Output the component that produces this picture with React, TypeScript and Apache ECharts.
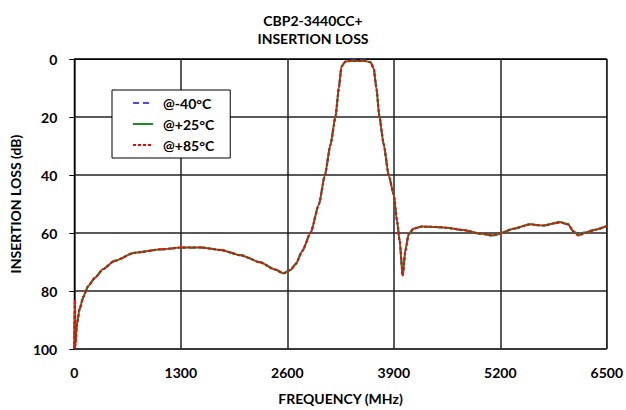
import React, { useEffect, useRef } from "react";
import * as echarts from "echarts";

// Frequency sweep points (MHz)
const freqs = [
  0, 8, 15, 30, 65, 110, 167, 250, 349, 491,
  734, 1059, 1302, 1546, 1789, 2033, 2276, 2438, 2556, 2641,
  2702, 2784, 2885, 2986, 3059, 3128, 3189, 3229, 3262, 3311,
  3372, 3432, 3493, 3550, 3615, 3655, 3688, 3724, 3777, 3838,
  3899, 3940, 3972, 4009, 4041, 4081, 4142, 4244, 4400, 4549,
  4751, 4954, 5116, 5197, 5360, 5563, 5725, 5928, 6029, 6090,
  6151, 6253, 6375, 6500,
];

// Insertion loss (dB) at -40°C
const lossM40 = [
  100, 84, 98, 92, 86.4, 82.2, 78.6, 75.6, 72.6, 69.7,
  66.9, 65.7, 65.1, 65.0, 65.8, 67.6, 70.1, 72.4, 73.8, 72.6,
  70.7, 66.1, 59.8, 50.1, 40.0, 29.4, 19.7, 10.0, 2.5, 0.8,
  0.5, 0.4, 0.4, 0.5, 1.0, 3.1, 10.0, 19.7, 29.4, 40.0,
  46.6, 55.8, 62.7, 74.6, 66.1, 60.4, 58.4, 57.8, 57.9, 58.2,
  59.1, 60.3, 61.0, 60.2, 58.6, 57.1, 57.5, 56.4, 57.1, 59.5,
  60.5, 59.6, 58.7, 57.5,
];

// Insertion loss (dB) at +25°C
const loss25 = [
  100, 84, 98, 92, 86.2, 82, 78.4, 75.5, 72.5, 69.6,
  66.8, 65.6, 65.0, 65.0, 65.9, 67.7, 70.2, 72.5, 73.9, 72.7,
  70.8, 66.2, 59.9, 50.2, 40.1, 29.5, 19.8, 10.1, 2.6, 0.9,
  0.7, 0.7, 0.7, 0.7, 1.1, 3.2, 10.1, 19.8, 29.5, 40.1,
  46.7, 55.9, 62.8, 74.8, 66.2, 60.5, 58.5, 57.8, 57.9, 58.2,
  59.0, 60.2, 60.8, 60.1, 58.5, 57.0, 57.4, 56.2, 57.0, 59.3,
  60.8, 59.7, 58.8, 57.6,
];

// Insertion loss (dB) at +85°C
const loss85 = [
  100, 83, 99, 92, 86.1, 82, 78.4, 75.5, 72.5, 69.6,
  66.8, 65.6, 65.0, 65.0, 65.9, 67.7, 70.2, 72.5, 73.9, 72.7,
  70.8, 66.2, 59.9, 50.2, 40.1, 29.5, 19.8, 10.1, 2.6, 0.9,
  0.7, 0.7, 0.7, 0.7, 1.1, 3.2, 10.1, 19.8, 29.5, 40.1,
  46.7, 55.9, 62.8, 74.8, 66.2, 60.5, 58.5, 57.8, 57.9, 58.2,
  59.0, 60.2, 60.9, 60.1, 58.5, 57.0, 57.4, 56.3, 57.0, 59.4,
  60.9, 59.8, 58.8, 57.6,
];

const seriesNames = ["@-40°C", "@+25°C", "@+85°C"];
const xTicks = [0, 1300, 2600, 3900, 5200, 6500];
const yTicks = [0, 20, 40, 60, 80, 100];

const FONT = "Lato";

export default function App() {
  const ref = useRef<HTMLDivElement>(null);

  useEffect(() => {
    document.body.style.margin = "0";
    if (!ref.current) return;
    const chart = echarts.init(ref.current, undefined, { renderer: "svg" });

    const pair = (vals: number[]) => freqs.map((f, i) => [f, vals[i]]);

    const lineSeries = (name: string, vals: number[], color: string, type: any) => ({
      name,
      type: "line",
      data: pair(vals),
      showSymbol: false,
      symbol: "none",
      smooth: 0.2,
      smoothMonotone: "x",
      lineStyle: { color, width: 2, type },
      itemStyle: { color },
    });

    const bold = (size: number) => ({
      fontFamily: FONT,
      fontSize: size,
      fontWeight: "bold",
      color: "#000",
    });

    chart.setOption({
      animation: false,
      backgroundColor: "#fff",
      title: {
        text: "CBP2-3440CC+\nINSERTION LOSS",
        left: "center",
        top: 6,
        textStyle: { ...bold(14), lineHeight: 18 },
      },
      legend: {
        orient: "vertical",
        left: 112,
        top: 90,
        data: seriesNames,
        backgroundColor: "#fff",
        borderColor: "#000",
        borderWidth: 1,
        padding: [6, 16, 6, 20],
        itemWidth: 20,
        itemHeight: 10,
        itemGap: 7,
        itemStyle: { opacity: 0 },
        textStyle: { ...bold(14), padding: [0, 0, 0, 5] },
      },
      grid: {
        left: 73,
        right: 19,
        top: 59,
        bottom: 60,
        show: true,
        borderColor: "#000",
        borderWidth: 1,
      },
      xAxis: {
        type: "value",
        min: xTicks[0],
        max: xTicks[xTicks.length - 1],
        interval: 1300,
        name: "FREQUENCY (MHz)",
        nameLocation: "middle",
        nameGap: 42,
        nameTextStyle: bold(14),
        axisLine: { show: true, lineStyle: { color: "#000", width: 1 } },
        axisTick: { show: false },
        axisLabel: {
          margin: 16,
          ...bold(14),
          formatter: (v: number) => String(v),
        },
        splitLine: { show: true, lineStyle: { color: "#222", width: 1.5 } },
      },
      yAxis: {
        type: "value",
        inverse: true,
        min: yTicks[0],
        max: yTicks[yTicks.length - 1],
        interval: 20,
        name: "INSERTION LOSS (dB)",
        nameLocation: "middle",
        nameGap: 48,
        nameTextStyle: bold(14),
        axisLine: { show: true, lineStyle: { color: "#000", width: 1 } },
        axisTick: {
          show: true,
          inside: false,
          length: 5,
          lineStyle: { color: "#000" },
        },
        axisLabel: {
          margin: 17,
          ...bold(14),
          formatter: (v: number) => String(v),
        },
        splitLine: { show: true, lineStyle: { color: "#222", width: 1.5 } },
      },
      series: [
        lineSeries(seriesNames[0], lossM40, "#4d4dd9", [6, 4]),
        lineSeries(seriesNames[1], loss25, "#1e8c1e", "solid"),
        lineSeries(seriesNames[2], loss85, "#ff0000", [3, 2]),
      ],
    });

    return () => chart.dispose();
  }, []);

  return <div ref={ref} style={{ width: 626, height: 410 }} />;
}
